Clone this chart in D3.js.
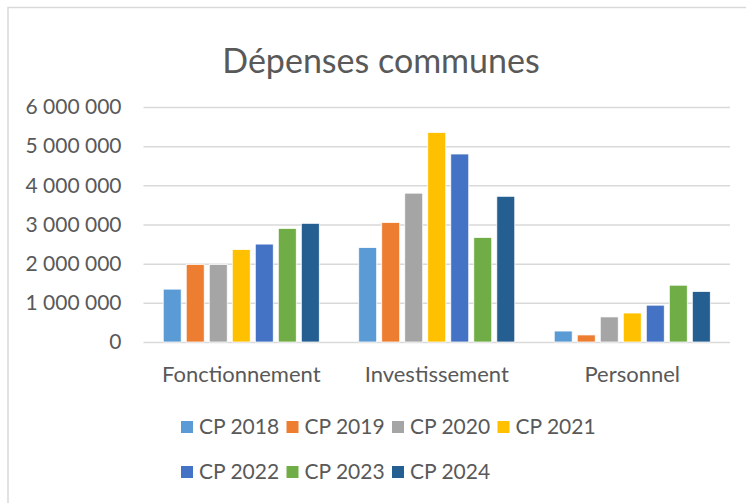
<!DOCTYPE html>
<html>
<head>
<meta charset="utf-8">
<script src="https://cdn.jsdelivr.net/npm/d3@7"></script>
<style>
  html, body { margin: 0; padding: 0; background: #fff; }
  svg { display: block; font-family: Lato, "Open Sans", sans-serif; }
</style>
</head>
<body>
<svg id="chart" width="746" height="503"></svg>
<script>
const title = "Dépenses communes";
const categories = ["Fonctionnement", "Investissement", "Personnel"];
const seriesNames = ["CP 2018", "CP 2019", "CP 2020", "CP 2021", "CP 2022", "CP 2023", "CP 2024"];
const seriesColors = ["#5B9BD5", "#ED7D31", "#A5A5A5", "#FFC000", "#4472C4", "#70AD47", "#255E91"];
// values per series, in order of categories
const cp2018 = [1350000, 2410000, 280000];
const cp2019 = [1980000, 3050000, 180000];
const cp2020 = [1980000, 3800000, 640000];
const cp2021 = [2360000, 5350000, 740000];
const cp2022 = [2500000, 4800000, 940000];
const cp2023 = [2900000, 2670000, 1450000];
const cp2024 = [3030000, 3720000, 1290000];
const yTicks = [0, 1000000, 2000000, 3000000, 4000000, 5000000, 6000000];

const seriesValues = [cp2018, cp2019, cp2020, cp2021, cp2022, cp2023, cp2024];

const svg = d3.select("#chart");
const W = 746, H = 503;
const plot = { left: 143.5, right: 730, top: 107, bottom: 342 };
const textColor = "#595959";
const gridColor = "#D9D9D9";

// outer frame
svg.append("rect")
  .attr("x", 8).attr("y", 7.5)
  .attr("width", W + 20).attr("height", H + 20)
  .attr("fill", "none").attr("stroke", gridColor).attr("stroke-width", 1.5);

// title
svg.append("text")
  .attr("x", 381).attr("y", 73)
  .attr("text-anchor", "middle")
  .attr("fill", textColor)
  .attr("font-size", 34)
  .text(title);

const y = d3.scaleLinear().domain([0, 6000000]).range([plot.bottom, plot.top]);
const x0 = d3.scaleBand().domain(categories).range([plot.left, plot.right])
  .paddingInner(0.176).paddingOuter(0.088);
const x1 = d3.scaleBand().domain(seriesNames).range([0, x0.bandwidth()])
  .paddingInner(0.22).paddingOuter(0.11);

const fmt = v => d3.format(",")(v).replace(/,/g, " ");

// y axis (gridlines + labels)
const yAxis = d3.axisLeft(y).tickValues(yTicks).tickFormat(fmt)
  .tickSize(-(plot.right - plot.left)).tickPadding(22);
const gy = svg.append("g").attr("transform", `translate(${plot.left},0)`).call(yAxis);
gy.select(".domain").remove();
gy.selectAll(".tick line").attr("stroke", gridColor).attr("stroke-width", 1.5);
gy.selectAll(".tick text").attr("fill", textColor).attr("font-size", 21)
  .attr("font-family", "Lato, sans-serif");

// bars
const data = [];
categories.forEach((c, ci) => {
  seriesNames.forEach((s, si) => {
    data.push({ cat: c, series: s, value: seriesValues[si][ci], color: seriesColors[si] });
  });
});
svg.append("g").selectAll("rect").data(data).join("rect")
  .attr("x", d => x0(d.cat) + x1(d.series))
  .attr("y", d => y(d.value))
  .attr("width", x1.bandwidth())
  .attr("height", d => y(0) - y(d.value))
  .attr("fill", d => d.color)
  .attr("stroke", "#fff").attr("stroke-width", 0.75);

// x axis labels
const xAxis = d3.axisBottom(x0).tickSize(0).tickPadding(24);
const gx = svg.append("g").attr("transform", `translate(0,${plot.bottom})`).call(xAxis);
gx.select(".domain").remove();
gx.selectAll(".tick text").attr("fill", textColor).attr("font-size", 22)
  .attr("font-family", "Lato, sans-serif");

// legend
const legendStartX = 181, legendStep = 105.5;
const rowY = [427, 472];
const perRow = 4;
const lg = svg.append("g");
seriesNames.forEach((s, i) => {
  const r = Math.floor(i / perRow), c = i % perRow;
  const gx0 = legendStartX + c * legendStep;
  lg.append("rect").attr("x", gx0).attr("y", rowY[r] - 6).attr("width", 12).attr("height", 12)
    .attr("fill", seriesColors[i]);
  lg.append("text").attr("x", gx0 + 18).attr("y", rowY[r]).attr("dy", "0.35em")
    .attr("fill", textColor).attr("font-size", 21).text(s);
});
</script>
</body>
</html>
